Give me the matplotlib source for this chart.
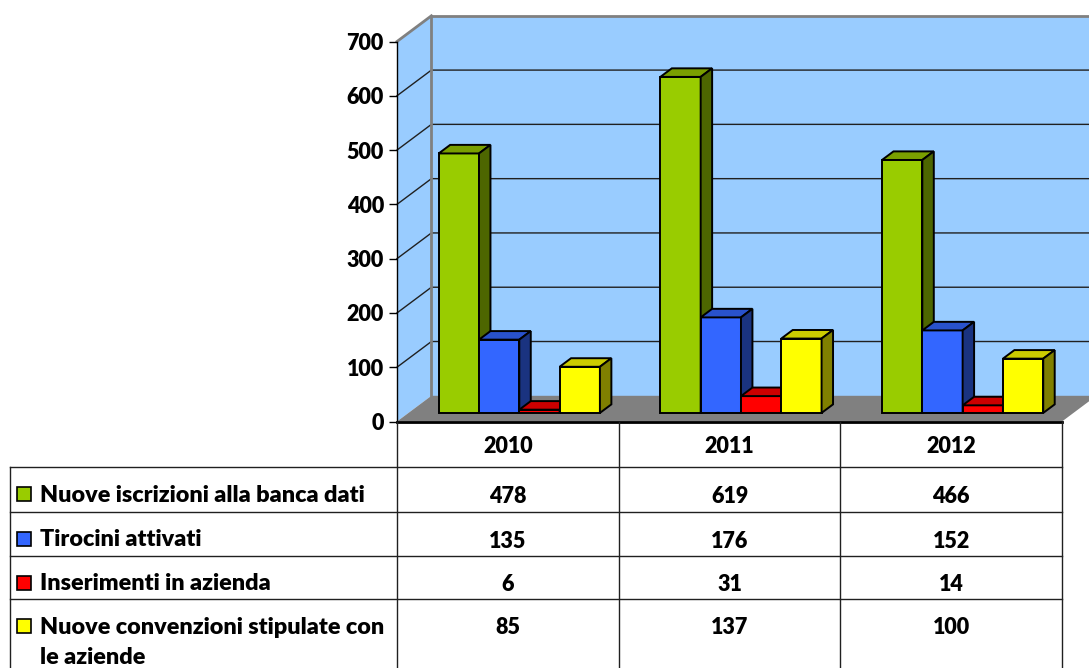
import matplotlib
matplotlib.use("Agg")
import matplotlib.pyplot as plt
from matplotlib.patches import Polygon, Rectangle

# ---------------- data ----------------
years = ["2010", "2011", "2012"]
series_names = ["Nuove iscrizioni alla banca dati",
                "Tirocini attivati",
                "Inserimenti in azienda",
                "Nuove convenzioni stipulate con\nle aziende"]
nuove_iscrizioni = [478, 619, 466]
tirocini_attivati = [135, 176, 152]
inserimenti_azienda = [6, 31, 14]
nuove_convenzioni = [85, 137, 100]
y_ticks = [0, 100, 200, 300, 400, 500, 600, 700]

series_values = [nuove_iscrizioni, tirocini_attivati, inserimenti_azienda, nuove_convenzioni]
# front, top, side colours
series_colors = [("#99CC00", "#7A9F00", "#4D6600"),
                 ("#3366FF", "#2952CC", "#1A3380"),
                 ("#FF0000", "#CC0000", "#800000"),
                 ("#FFFF00", "#CCCC00", "#808000")]

plt.rcParams['font.family'] = ['Lato', 'DejaVu Sans']
FW = "heavy"
FS_NUM = 15.5
FS_LAB = 16.8

W, H = 1089, 668
fig = plt.figure(figsize=(W / 100, H / 100), dpi=100)


def fx(px):
    return px / W


def fy(py):
    return 1 - py / H


X0, X1 = 397, 1062        # front plane x extent (px)
Y0, Y700 = 421.5, 41.5    # front plane y of 0 and 700 (px)
ax = fig.add_axes([fx(X0), fy(Y0), fx(X1) - fx(X0), fy(Y700) - fy(Y0)])
ncat = len(years)
ymax = y_ticks[-1]
ax.set_xlim(0, ncat)
ax.set_ylim(0, ymax)
ax.patch.set_visible(False)

px_per_x = (X1 - X0) / ncat
px_per_y = (Y0 - Y700) / ymax
DX = 34.4 / px_per_x
DY = 25.7 / px_per_y


def P(x, y, d):
    return (x + d * DX, y + d * DY)


# walls and floor
ax.add_patch(Polygon([P(0, 0, 1), P(ncat, 0, 1), P(ncat, ymax, 1), P(0, ymax, 1)],
                     closed=True, fc="#99CCFF", ec="none", clip_on=False, zorder=0.2))
ax.add_patch(Polygon([P(0, 0, 0), P(0, ymax, 0), P(0, ymax, 1), P(0, 0, 1)],
                     closed=True, fc="#99CCFF", ec="none", clip_on=False, zorder=0.2))
ax.add_patch(Polygon([P(0, 0, 0), P(ncat, 0, 0), P(ncat, 0, 1), P(0, 0, 1)],
                     closed=True, fc="#808080", ec="none", clip_on=False, zorder=0.3))

# gridlines
for v in y_ticks[1:-1]:
    pts = [P(0, v, 0), P(0, v, 1), P(ncat, v, 1)]
    ax.plot([p[0] for p in pts], [p[1] for p in pts], color="#202020", lw=1.0,
            clip_on=False, zorder=0.5)
# wall borders (grey)
pts = [P(0, 0, 1), P(0, ymax, 1), P(ncat, ymax, 1)]
ax.plot([p[0] for p in pts], [p[1] for p in pts], color="#808080", lw=2,
        clip_on=False, zorder=0.5)
pts = [P(0, ymax, 0), P(0, ymax, 1)]
ax.plot([p[0] for p in pts], [p[1] for p in pts], color="#808080", lw=2,
        clip_on=False, zorder=0.5)

# bars
nser = len(series_values)
bw = 1.0 / (nser + 1.5)
d1, d2 = 1 / 3, 2 / 3
z = 1.0
for i in range(ncat):
    for j in range(nser):
        v = series_values[j][i]
        fc, tc, sc = series_colors[j]
        xl = i + 0.75 * bw + j * bw
        xr = xl + bw
        kw = dict(closed=True, ec="black", lw=1.4, clip_on=False, joinstyle="miter")
        ax.add_patch(Polygon([P(xl, 0, d1), P(xr, 0, d1), P(xr, v, d1), P(xl, v, d1)],
                             fc=fc, zorder=z, **kw))
        ax.add_patch(Polygon([P(xl, v, d1), P(xr, v, d1), P(xr, v, d2), P(xl, v, d2)],
                             fc=tc, zorder=z, **kw))
        ax.add_patch(Polygon([P(xr, 0, d1), P(xr, 0, d2), P(xr, v, d2), P(xr, v, d1)],
                             fc=sc, zorder=z, **kw))
        z += 0.01

# axes styling
for s in ["top", "right"]:
    ax.spines[s].set_visible(False)
ax.spines["left"].set_color("black")
ax.spines["left"].set_linewidth(1.0)
ax.spines["bottom"].set_color("black")
ax.spines["bottom"].set_linewidth(2.0)
ax.spines["bottom"].set_zorder(5)
ax.set_yticks(y_ticks)
ax.set_yticklabels([str(t) for t in y_ticks], fontsize=FS_NUM, fontweight=FW)
ax.tick_params(axis="y", direction="out", length=6, width=1, pad=3.5)
ax.set_xticks([])

# ---------------- data table ----------------
TL = 10
tab = fig.add_axes([fx(TL), 0, fx(X1) - fx(TL), fy(Y0)])
tab.set_xlim(-(X0 - TL) / px_per_x, ncat)
tab.set_ylim(H - Y0, 0)
tab.axis("off")

rows = [0, 45, 90.5, 134.5, 177.5, H - Y0 + 5]
lc = "#202020"
# vertical lines
for k in range(ncat + 1):
    tab.plot([k, k], [0, rows[-1]], color=lc, lw=1.0, clip_on=False)
xl_tab = -(X0 - TL) / px_per_x
tab.plot([xl_tab, xl_tab], [rows[1], rows[-1]], color=lc, lw=1.0, clip_on=False)
for r in rows[1:5]:
    tab.plot([xl_tab, ncat], [r, r], color=lc, lw=1.0, clip_on=False)

# header
for i, yr in enumerate(years):
    tab.text(i + 0.5, 25, yr, ha="center", va="center", fontsize=FS_NUM, fontweight=FW)

key_x = (17 - X0) / px_per_x
key_w = 14 / px_per_x
lab_x = (40 - X0) / px_per_x
for j in range(nser):
    top = rows[j + 1]
    if j < nser - 1:
        yc = (rows[j + 1] + rows[j + 2]) / 2 + 7
    else:
        yc = top + 29
    tab.add_patch(Rectangle((key_x, yc - 9), key_w, 14, fc=series_colors[j][0],
                            ec="black", lw=1.2, clip_on=False))
    tab.text(lab_x, yc - 11.5, series_names[j], ha="left", va="top", fontsize=FS_LAB,
             fontweight=FW, linespacing=1.57)
    for i in range(ncat):
        tab.text(i + 0.5, yc, str(series_values[j][i]), ha="center", va="center",
                 fontsize=FS_NUM, fontweight=FW)

fig.savefig("out.png", dpi=100)
